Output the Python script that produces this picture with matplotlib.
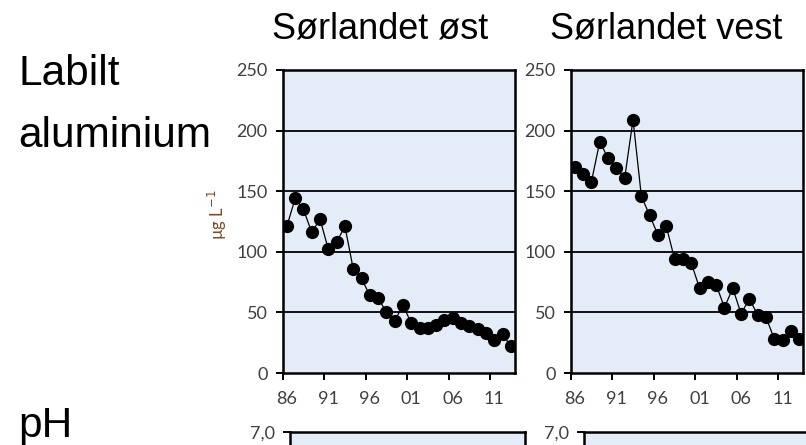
import numpy as np
import matplotlib.pyplot as plt

# Labilt aluminium (ug/L), 1986-2013
years = list(range(1986, 2014))
al_ost = [121, 144, 135, 116, 127, 102, 108, 121, 86, 78, 64, 62, 50, 43,
          56, 41, 37, 37, 40, 44, 45, 41, 39, 36, 33, 27, 32, 22]
al_vest = [170, 164, 158, 191, 177, 169, 161, 209, 146, 130, 114, 121, 94, 94,
           91, 70, 75, 73, 54, 70, 49, 61, 48, 46, 28, 27, 35, 28]
regions = ["Sørlandet øst", "Sørlandet vest"]
xtick_labels = ["86", "91", "96", "01", "06", "11"]
al_ticks = [0, 50, 100, 150, 200, 250]
ph_top = 7.0

W, H = 806, 445
bg = "#e4ecf7"
tick_col = "#404040"
tick_font = "Lato"
big_font = "Liberation Sans"

fig = plt.figure(figsize=(W / 100, H / 100), dpi=100)


def px_axes(x0, x1, ytop, ybot):
    return fig.add_axes([x0 / W, (H - ybot) / H, (x1 - x0) / W, (ybot - ytop) / H])


def style(ax):
    ax.set_facecolor(bg)
    for s in ax.spines.values():
        s.set_linewidth(1.8)
        s.set_color("black")
    ax.tick_params(axis="y", direction="out", length=5, width=1.4, pad=6,
                   labelsize=13, labelcolor=tick_col)
    for lab in ax.get_yticklabels():
        lab.set_fontfamily(tick_font)


n = len(years)
xpos = np.arange(n) + 0.5
major = np.arange(0, n, 5)

for (x0, x1), vals in zip([(282.7, 515), (570.7, 803.4)], [al_ost, al_vest]):
    ax = px_axes(x0, x1, 70, 373)
    ax.set_xlim(0, n)
    ax.set_ylim(0, 250)
    ax.set_yticks(al_ticks)
    for v in al_ticks[1:-1]:
        ax.axhline(v, color="black", lw=1.3, zorder=1)
    ax.plot(xpos, vals, color="black", lw=0.9, marker="o", ms=8.5, zorder=3)
    ax.set_xticks(major)
    ax.set_xticklabels([])
    ax.set_xticks(major + 0.5, minor=True)
    ax.set_xticklabels(xtick_labels, minor=True, fontfamily=tick_font)
    ax.tick_params(axis="x", which="major", direction="out", length=5, width=1.4)
    ax.tick_params(axis="x", which="minor", length=0, pad=13, labelsize=13,
                   labelcolor=tick_col)
    style(ax)

fig.text(271.7 / W, (H - 38.3) / H, regions[0], fontsize=26, family=big_font)
fig.text(550 / W, (H - 38.3) / H, regions[1], fontsize=26, family=big_font)

fig.text(18 / W, (H - 85) / H, "Labilt", fontsize=30.5, family=big_font)
fig.text(18 / W, (H - 146.7) / H, "aluminium", fontsize=30.5, family=big_font)
fig.text(18 / W, (H - 436.7) / H, "pH", fontsize=30.5, family=big_font)

fig.text(217 / W, (H - 215) / H, r"µg L$^{-1}$", rotation=90, ha="center",
         va="center", fontsize=12, color="#7a4a28", family=tick_font)

# pH panels (only the top edge is visible)
for x0 in [290, 584.3]:
    ax = px_axes(x0, x0 + 234.5, 431.7, 731.7)
    ax.set_xlim(0, n)
    ax.set_ylim(4.0, ph_top)
    ax.set_yticks([ph_top])
    ax.set_yticklabels([f"{ph_top:.1f}".replace(".", ",")])
    ax.set_xticks([])
    style(ax)

fig.savefig("out.png", dpi=100)
